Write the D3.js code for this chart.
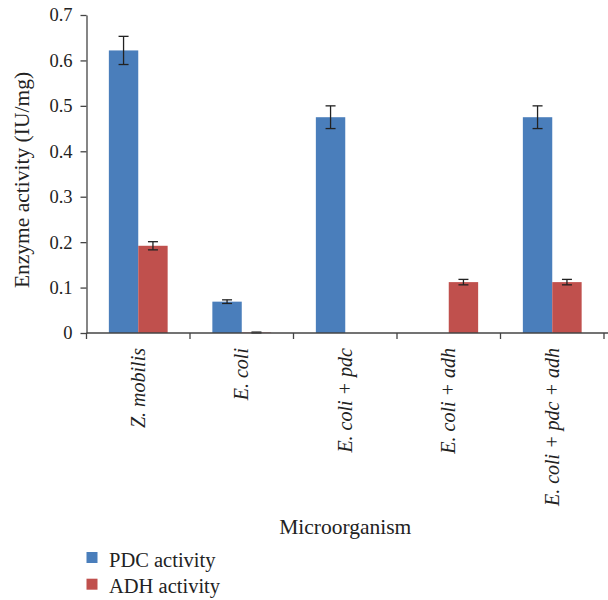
<!DOCTYPE html>
<html>
<head>
<meta charset="utf-8">
<script src="https://cdn.jsdelivr.net/npm/d3@7"></script>
<style>
  body { margin: 0; background: #fff; }
</style>
</head>
<body>
<div id="grafico"></div>
<script>
const categorias = ["Z. mobilis", "E. coli", "E. coli + pdc", "E. coli + adh", "E. coli + pdc + adh"];
const series = ["PDC activity", "ADH activity"];
const pdc = [0.622, 0.069, 0.475, 0, 0.475];
const pdcErr = [0.031, 0.004, 0.025, 0, 0.025];
const adh = [0.192, 0.001, 0, 0.112, 0.112];
const adhErr = [0.009, 0.001, 0, 0.006, 0.006];
const yTicks = [0, 0.1, 0.2, 0.3, 0.4, 0.5, 0.6, 0.7];

const width = 608;
const height = 600;
const margin = { top: 15, right: 4, bottom: 267, left: 86.5 };
const fuente = "Liberation Serif";

const data = categorias.map((c, i) => ({
  cat: c,
  vals: [
    { serie: series[0], v: pdc[i], e: pdcErr[i] },
    { serie: series[1], v: adh[i], e: adhErr[i] },
  ],
}));

const svg = d3.select("#grafico").append("svg")
  .attr("width", width)
  .attr("height", height);

const x0 = d3.scaleBand()
  .domain(categorias)
  .range([margin.left, width - margin.right])
  .padding(0);

const x1 = d3.scaleBand()
  .domain(series)
  .range([x0.bandwidth() * 0.216, x0.bandwidth() * 0.784]);

const y = d3.scaleLinear()
  .domain([0, 0.7])
  .range([height - margin.bottom, margin.top]);

const color = d3.scaleOrdinal()
  .domain(series)
  .range(["#4a7ebb", "#c0504d"]);

// barras
const grupos = svg.append("g")
  .selectAll("g")
  .data(data)
  .join("g")
  .attr("transform", (d) => `translate(${x0(d.cat)},0)`);

grupos.selectAll("rect")
  .data((d) => d.vals.filter((v) => v.v > 0))
  .join("rect")
  .attr("x", (d) => x1(d.serie))
  .attr("y", (d) => y(d.v))
  .attr("width", x1.bandwidth())
  .attr("height", (d) => y(0) - y(d.v))
  .attr("fill", (d) => color(d.serie));

// barras de error
const err = grupos.selectAll("g.err")
  .data((d) => d.vals.filter((v) => v.v > 0))
  .join("g")
  .attr("class", "err")
  .attr("stroke", "#222")
  .attr("stroke-width", 1.3);

err.append("line")
  .attr("x1", (d) => x1(d.serie) + x1.bandwidth() / 2)
  .attr("x2", (d) => x1(d.serie) + x1.bandwidth() / 2)
  .attr("y1", (d) => y(d.v + d.e))
  .attr("y2", (d) => y(Math.max(0, d.v - d.e)));

[1, -1].forEach((s) => {
  err.append("line")
    .attr("x1", (d) => x1(d.serie) + x1.bandwidth() / 2 - 5)
    .attr("x2", (d) => x1(d.serie) + x1.bandwidth() / 2 + 5)
    .attr("y1", (d) => y(Math.max(0, d.v + s * d.e)))
    .attr("y2", (d) => y(Math.max(0, d.v + s * d.e)));
});

// Eje Y
const ejeY = svg.append("g")
  .attr("transform", `translate(${margin.left},0)`)
  .call(d3.axisLeft(y)
    .tickValues(yTicks)
    .tickFormat((d) => (d === 0 ? "0" : d3.format(".1f")(d)))
    .tickSize(6)
    .tickPadding(8)
    .tickSizeOuter(0));
ejeY.select(".domain").attr("stroke", "#444").attr("stroke-width", 1.3);
ejeY.selectAll(".tick line").attr("stroke", "#444").attr("stroke-width", 1.3);
ejeY.selectAll("text")
  .attr("font-family", fuente)
  .attr("font-size", 18.5)
  .attr("fill", "#222");

// Eje X
const ejeX = svg.append("g")
  .attr("transform", `translate(0,${y(0)})`);
ejeX.append("line")
  .attr("x1", margin.left)
  .attr("x2", width)
  .attr("stroke", "#444")
  .attr("stroke-width", 1.3);
const limites = categorias.map((c) => x0(c)).concat([x0.range()[1]]);
ejeX.selectAll("line.tk")
  .data(limites)
  .join("line")
  .attr("class", "tk")
  .attr("x1", (d) => d)
  .attr("x2", (d) => d)
  .attr("y1", 0)
  .attr("y2", 6)
  .attr("stroke", "#444")
  .attr("stroke-width", 1.3);

ejeX.selectAll("text")
  .data(categorias)
  .join("text")
  .attr("transform", (d) => `translate(${x0(d) + x0.bandwidth() / 2},15) rotate(-90)`)
  .attr("text-anchor", "end")
  .attr("dy", "0.33em")
  .attr("font-family", fuente)
  .attr("font-size", 20)
  .attr("font-style", "italic")
  .attr("fill", "#222")
  .text((d) => d);

// titulos
svg.append("text")
  .attr("transform", "translate(28.5,180) rotate(-90)")
  .attr("text-anchor", "middle")
  .attr("font-family", fuente)
  .attr("font-size", 21.5)
  .attr("fill", "#222")
  .text("Enzyme activity (IU/mg)");

svg.append("text")
  .attr("x", (x0.range()[0] + x0.range()[1]) / 2)
  .attr("y", 534)
  .attr("text-anchor", "middle")
  .attr("font-family", fuente)
  .attr("font-size", 21.5)
  .attr("fill", "#222")
  .text("Microorganism");

// Leyenda
const leyenda = svg.append("g").attr("transform", "translate(86.5,552)");
series.forEach((s, i) => {
  const g = leyenda.append("g").attr("transform", `translate(0,${i * 26.7})`);
  g.append("rect")
    .attr("width", 11)
    .attr("height", 11)
    .attr("fill", color(s));
  g.append("text")
    .attr("x", 22.5)
    .attr("y", 14.7)
    .attr("font-family", fuente)
    .attr("font-size", 20.5)
    .attr("fill", "#222")
    .text(s);
});
</script>
</body>
</html>
